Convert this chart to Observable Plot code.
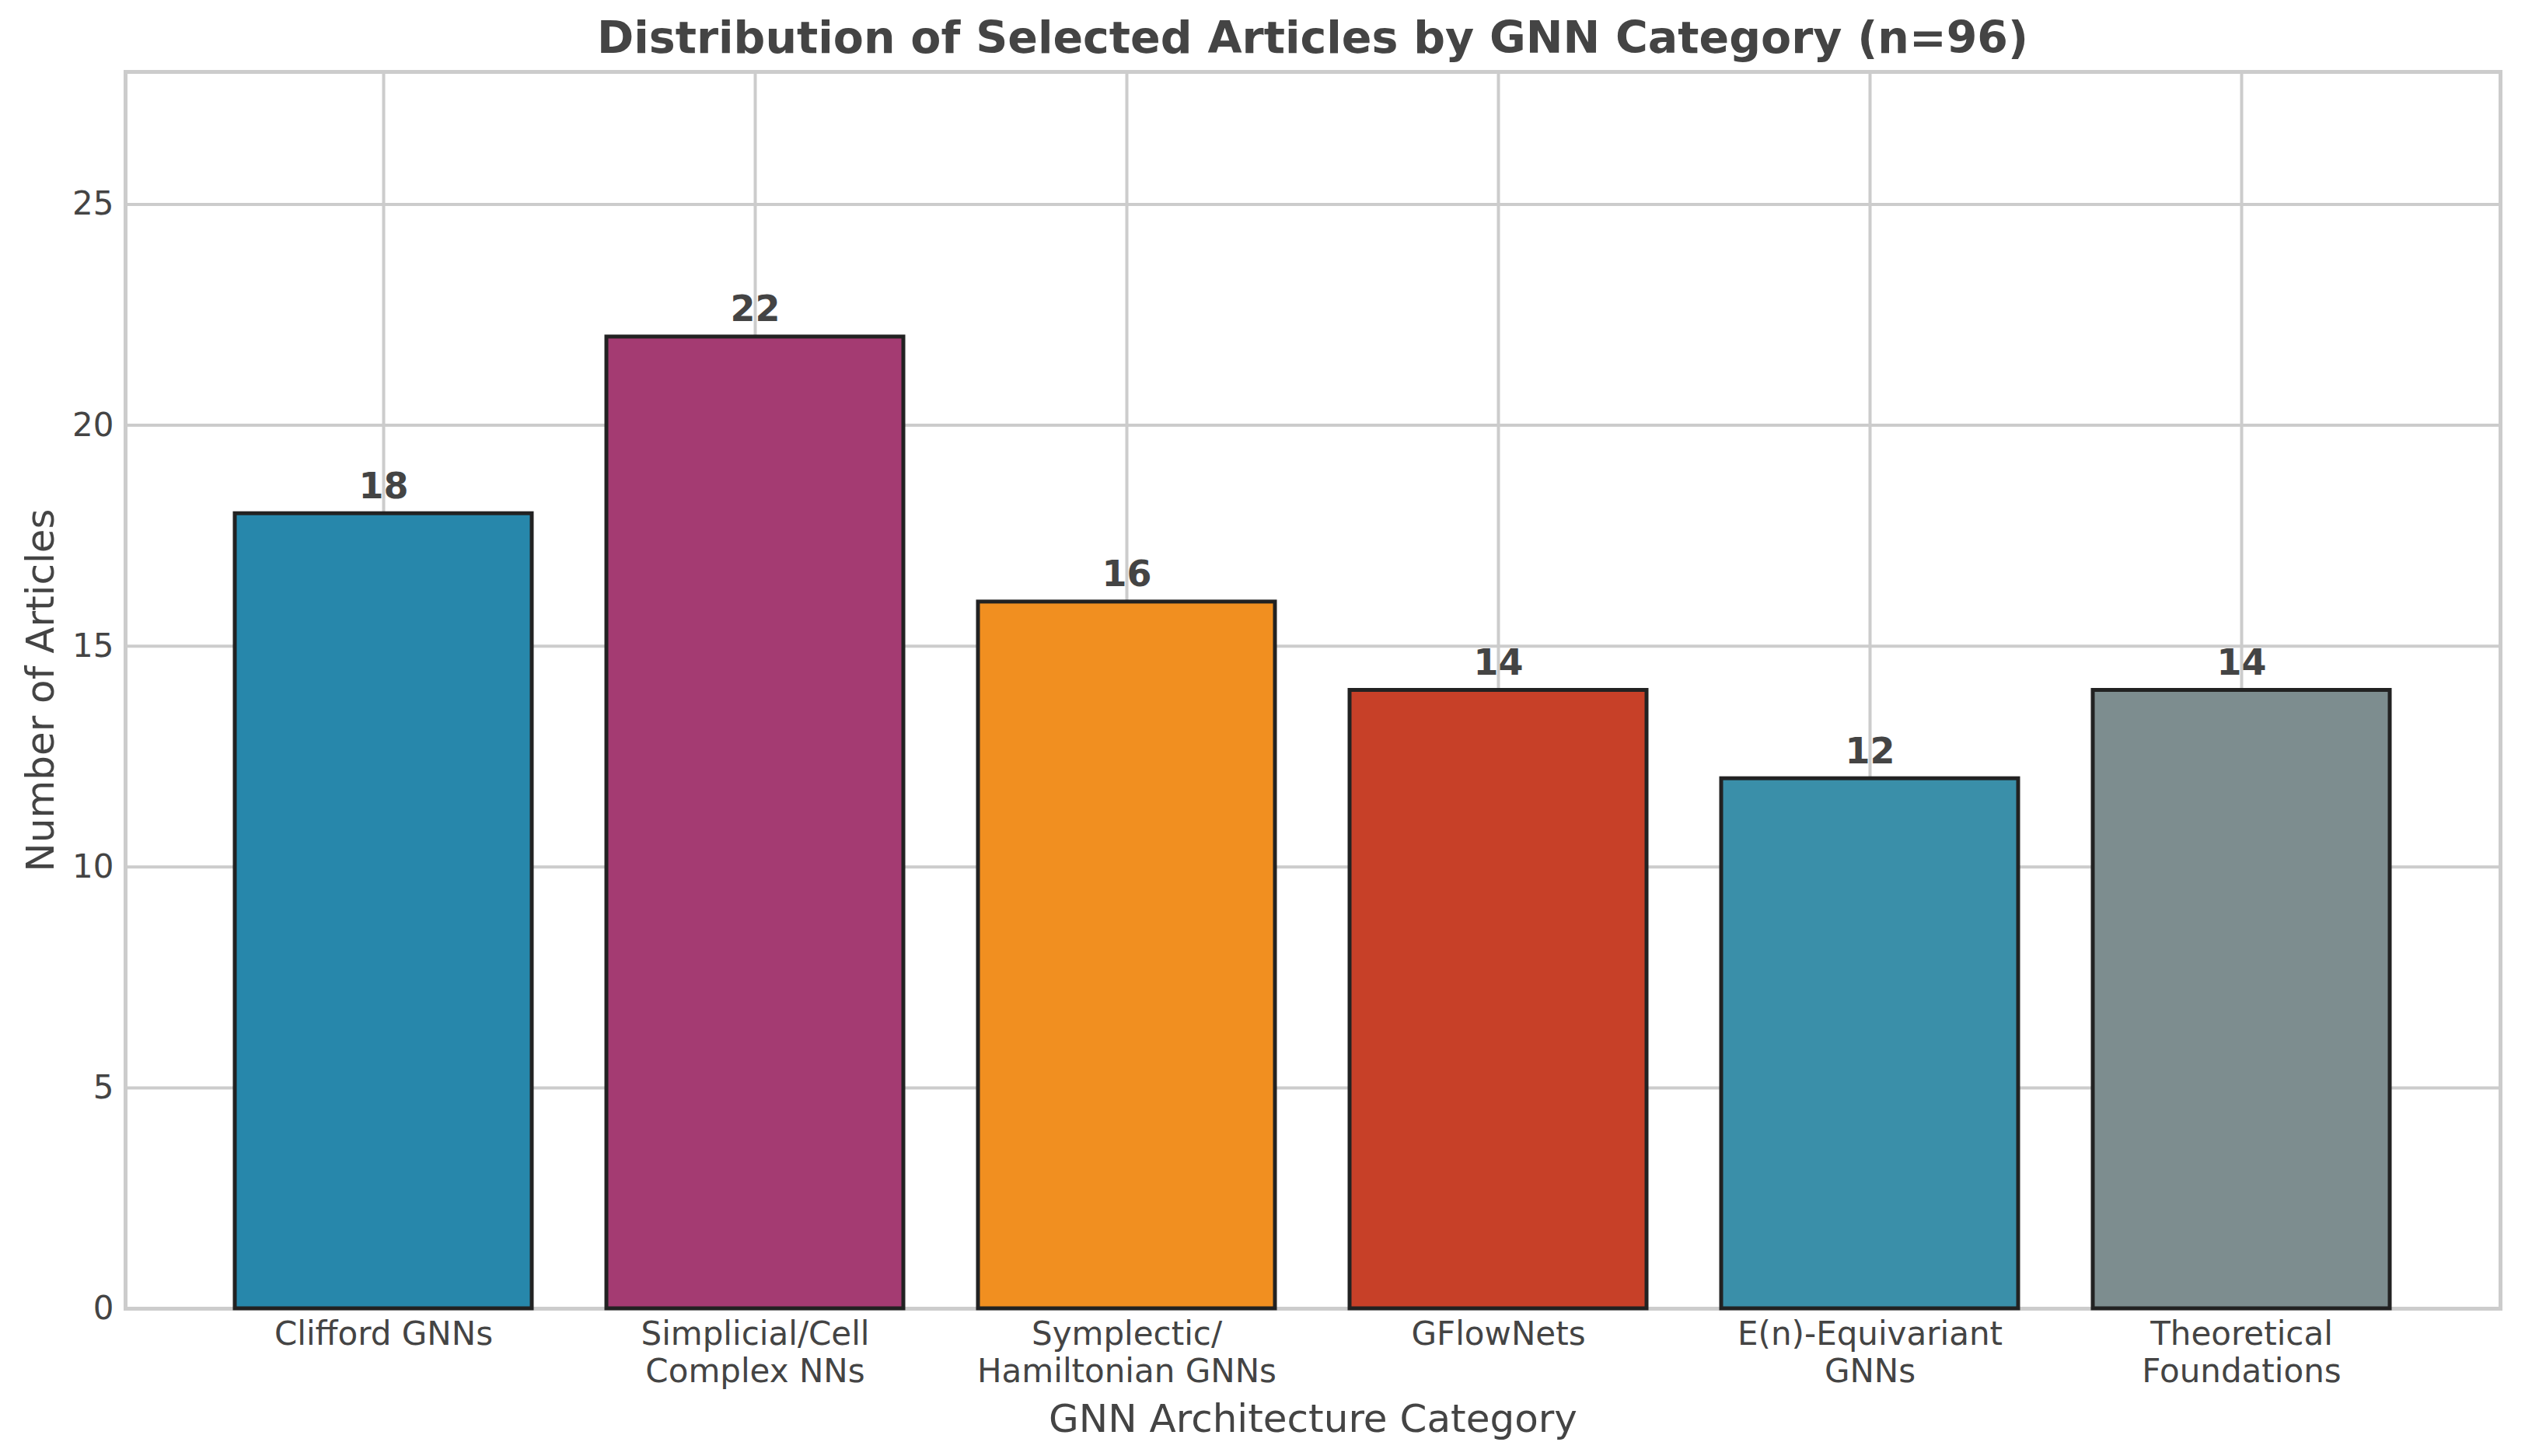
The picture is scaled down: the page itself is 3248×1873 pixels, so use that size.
<!DOCTYPE html>
<html>
<head>
<meta charset="utf-8">
<script src="https://cdn.jsdelivr.net/npm/d3@7"></script>
<script src="https://cdn.jsdelivr.net/npm/@observablehq/plot@0.6"></script>
<style>
  html, body { margin: 0; padding: 0; background: #ffffff; }
  #title {
    width: 3248px; height: 80px; box-sizing: border-box; padding: 15px 32px 0 161px;
    line-height: 67px; text-align: center; font-family: "DejaVu Sans", sans-serif;
    font-weight: bold; font-size: 57px; color: #444444; white-space: nowrap;
  }
</style>
</head>
<body>
<div id="title">Distribution of Selected Articles by GNN Category (n=96)</div>
<div id="chart"></div>
<script>
const categories = ["Clifford GNNs", "Simplicial/Cell Complex NNs", "Symplectic/Hamiltonian GNNs", "GFlowNets", "E(n)-Equivariant GNNs", "Theoretical Foundations"];
const tickLabels = ["Clifford GNNs", "Simplicial/Cell\nComplex NNs", "Symplectic/\nHamiltonian GNNs", "GFlowNets", "E(n)-Equivariant\nGNNs", "Theoretical\nFoundations"];
const counts = [18, 22, 16, 14, 12, 14];
const barColors = ["#2787AB", "#A43B72", "#F18F20", "#C74028", "#3A8FA9", "#7D8D8F"];
const yTicks = [0, 5, 10, 15, 20, 25];
const yMax = 28;

const data = categories.map((c, i) => ({category: c, count: counts[i], label: tickLabels[i]}));
const textColor = "#444444";
const gridColor = "#cccccc";

const chart = Plot.plot({
  width: 3248,
  height: 1793,
  marginTop: 12,
  marginBottom: 190,
  marginLeft: 161,
  marginRight: 32,
  style: {fontFamily: "DejaVu Sans, sans-serif", background: "#ffffff"},
  x: {domain: categories, paddingInner: 0.2, paddingOuter: 0.29, align: 0.5, axis: null},
  y: {domain: [0, yMax], axis: null},
  color: {domain: categories, range: barColors},
  marks: [
    Plot.gridX(categories, {stroke: gridColor, strokeOpacity: 1, strokeWidth: 4}),
    Plot.gridY(yTicks, {stroke: gridColor, strokeOpacity: 1, strokeWidth: 4}),
    Plot.frame({stroke: gridColor, strokeWidth: 5}),
    Plot.barY(data, {x: "category", y: "count", fill: "category", stroke: "#222222", strokeWidth: 5}),
    Plot.text(data, {x: "category", y: "count", text: d => String(d.count), dy: -20, lineAnchor: "bottom",
      fontSize: 46, fontWeight: "bold", fill: textColor}),
    Plot.axisY(yTicks, {tickSize: 0, tickPadding: 15, fontSize: 42, color: textColor, label: null,
      tickFormat: d => String(d)}),
    Plot.text(data, {x: "category", text: "label", frameAnchor: "bottom", lineAnchor: "top", dy: 12,
      lineHeight: 1.15, fontSize: 42, fill: textColor}),
    Plot.text(["GNN Architecture Category"], {frameAnchor: "bottom", lineAnchor: "top", dy: 123,
      fontSize: 50, fill: textColor}),
    Plot.text(["Number of Articles"], {frameAnchor: "left", textAnchor: "middle", rotate: -90, dx: -109,
      fontSize: 50, fill: textColor})
  ]
});
document.getElementById("chart").appendChild(chart);
</script>
</body>
</html>
